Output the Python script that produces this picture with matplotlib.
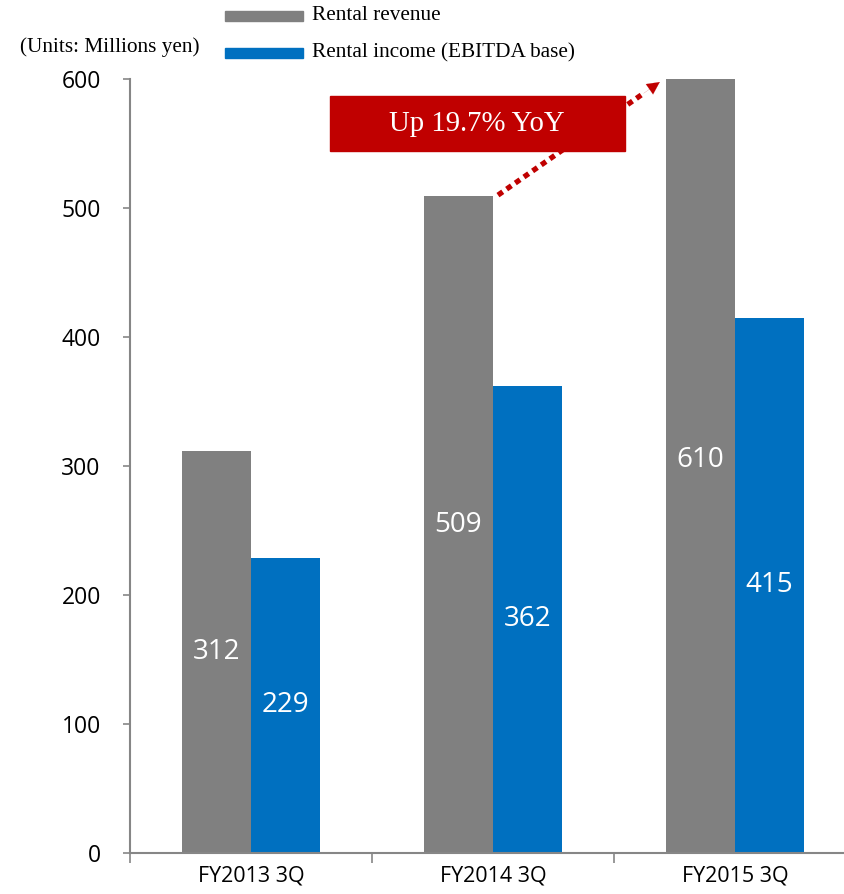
import matplotlib.pyplot as plt
from matplotlib.patches import Rectangle
import numpy as np

categories = ['FY2013 3Q', 'FY2014 3Q', 'FY2015 3Q']
revenue = [312, 509, 610]
income = [229, 362, 415]
legend_labels = ['Rental revenue', 'Rental income (EBITDA base)']
units_text = '(Units: Millions yen)'
callout_text = 'Up 19.7% YoY'

GRAY = '#808080'
BLUE = '#0070C0'
RED = '#C00000'
SANS = ['Open Sans', 'DejaVu Sans']
SERIF = ['Liberation Serif', 'DejaVu Serif']

fig = plt.figure(figsize=(8.44, 8.94), dpi=100)
ax = fig.add_axes([0.154, 0.0459, 0.860, 0.8657])

x = np.arange(len(categories))
w = 0.285
ax.bar(x - w / 2, revenue, w, color=GRAY, zorder=2)
ax.bar(x + w / 2, income, w, color=BLUE, zorder=2)

# подписи значений в середине столбцов
for xi, v in zip(x, revenue):
    ax.text(xi - w / 2, v / 2, str(v), color='white', ha='center', va='center',
            fontsize=20, family=SANS, zorder=3)
for xi, v in zip(x, income):
    ax.text(xi + w / 2, v / 2, str(v), color='white', ha='center', va='center',
            fontsize=20, family=SANS, zorder=3)

ax.set_xlim(-0.5, 2.5)
ax.set_ylim(0, 600)
ax.set_yticks(range(0, 601, 100))
ax.set_xticks(x)
ax.set_xticklabels(categories, family=SANS, fontsize=15.5)
ax.set_xticks([-0.5, 0.5, 1.5, 2.5], minor=True)
ax.tick_params(axis='x', which='major', length=0, pad=9)
ax.tick_params(axis='x', which='minor', length=7, width=1.2, color='#868686', direction='out')
ax.tick_params(axis='y', length=5, width=1.2, color='#868686', pad=16)
for lab in ax.get_yticklabels():
    lab.set_family(SANS)
    lab.set_fontsize(16.5)

for s in ['top', 'right']:
    ax.spines[s].set_visible(False)
for s in ['left', 'bottom']:
    ax.spines[s].set_color('#868686')
    ax.spines[s].set_linewidth(1.5)

# пунктирная стрелка
x0, y0 = 1.021, 510
x1, y1 = 1.690, 597.7
t = 0.9
xm, ym = x0 + (x1 - x0) * t, y0 + (y1 - y0) * t
ax.plot([x0, xm], [y0, ym], color=RED, lw=3.8, ls=(0, (1.1, 0.9)),
        solid_capstyle='butt', clip_on=False, zorder=4)
ax.annotate('', xy=(x1, y1), xytext=(xm, ym), annotation_clip=False,
            arrowprops=dict(arrowstyle='-|>,head_length=0.9,head_width=0.45',
                            color=RED, lw=0.1, shrinkA=0, shrinkB=0), zorder=4)

# красная плашка
ax.add_patch(Rectangle((0.326, 544.2), 1.545 - 0.326, 586.8 - 544.2,
                       color=RED, clip_on=False, zorder=5))
ax.text((0.326 + 1.545) / 2, 565.5, callout_text, color='white', ha='center',
        va='center', fontsize=20.7, family=SERIF, zorder=6)

# легенда
colors = [GRAY, BLUE]
ys = [894 - 16, 894 - 53]
for lab, c, yp in zip(legend_labels, colors, ys):
    fig.patches.append(Rectangle((225 / 844, (yp - 4.5) / 894), 78 / 844, 9 / 894,
                                 color=c, transform=fig.transFigure, figure=fig))
    fig.text(312 / 844, yp / 894, lab, ha='left', va='center', fontsize=15.3,
             family=SERIF)
fig.text(20 / 844, (894 - 47) / 894, units_text, ha='left', va='center',
         fontsize=15.3, family=SERIF)

fig.savefig('out.png', dpi=100)
